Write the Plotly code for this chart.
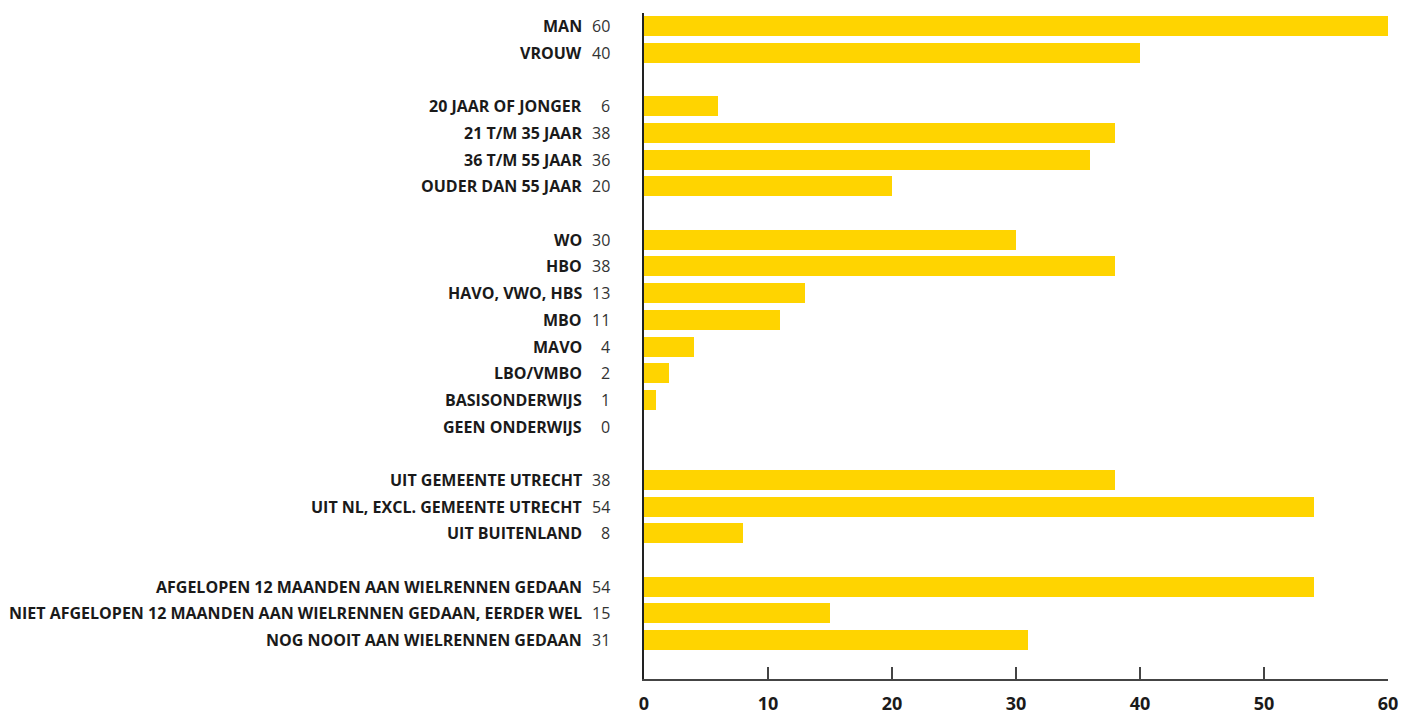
import plotly.graph_objects as go

# Data
group_labels = [
    ["MAN", "VROUW"],
    ["20 JAAR OF JONGER", "21 T/M 35 JAAR", "36 T/M 55 JAAR", "OUDER DAN 55 JAAR"],
    ["WO", "HBO", "HAVO, VWO, HBS", "MBO", "MAVO", "LBO/VMBO", "BASISONDERWIJS", "GEEN ONDERWIJS"],
    ["UIT GEMEENTE UTRECHT", "UIT NL, EXCL. GEMEENTE UTRECHT", "UIT BUITENLAND"],
    ["AFGELOPEN 12 MAANDEN AAN WIELRENNEN GEDAAN",
     "NIET AFGELOPEN 12 MAANDEN AAN WIELRENNEN GEDAAN, EERDER WEL",
     "NOG NOOIT AAN WIELRENNEN GEDAAN"],
]
group_values = [
    [60, 40],
    [6, 38, 36, 20],
    [30, 38, 13, 11, 4, 2, 1, 0],
    [38, 54, 8],
    [54, 15, 31],
]
x_ticks = [0, 10, 20, 30, 40, 50, 60]

BAR_COLOR = "#FFD400"
TEXT_COLOR = "#1a1a1a"
FONT = "Open Sans"

# Row index per category, with one empty row between groups
labels, values, rows = [], [], []
r = 0
for gl, gv in zip(group_labels, group_values):
    for l, v in zip(gl, gv):
        labels.append(l)
        values.append(v)
        rows.append(r)
        r += 1
    r += 1
last_row = rows[-1]

plot_left, plot_right = 644, 1388
pw = plot_right - plot_left

fig = go.Figure()
fig.add_trace(go.Bar(
    x=values, y=rows, orientation="h",
    marker=dict(color=BAR_COLOR, line=dict(width=0)),
    width=0.75, hoverinfo="x",
))

annotations = []
for l, v, yy in zip(labels, values, rows):
    annotations.append(dict(
        x=-60 / pw, xref="paper", y=yy, yref="y",
        text="<b>%s</b>" % l, showarrow=False, xanchor="right",
        font=dict(family=FONT, size=16, color=TEXT_COLOR),
    ))
    annotations.append(dict(
        x=-32 / pw, xref="paper", y=yy, yref="y",
        text=str(v), showarrow=False, xanchor="right",
        font=dict(family=FONT, size=16, color="#333333"),
    ))

fig.update_layout(
    width=1403, height=719,
    margin=dict(l=plot_left, r=1403 - plot_right, t=13, b=40, autoexpand=False),
    plot_bgcolor="white", paper_bgcolor="white",
    showlegend=False,
    bargap=0,
    font=dict(family=FONT, color=TEXT_COLOR),
    xaxis=dict(
        range=[0, 60], tickvals=x_ticks,
        ticktext=["<b>%d</b>" % t for t in x_ticks],
        showgrid=False, zeroline=False, automargin=False,
        showline=True, linecolor="#444444", linewidth=1.5,
        ticks="inside", ticklen=12, tickcolor="#444444", tickwidth=1.5,
        tickfont=dict(family=FONT, size=18, color=TEXT_COLOR),
        ticklabelstandoff=8,
    ),
    yaxis=dict(
        range=[last_row + 1.46, -0.5], automargin=False,
        showticklabels=False, showgrid=False, zeroline=False,
        showline=True, linecolor="#222222", linewidth=1.5, ticks="",
    ),
    annotations=annotations,
)

fig.write_html("out.html", config={"displayModeBar": False},
               post_script="document.body.style.margin='0';")
